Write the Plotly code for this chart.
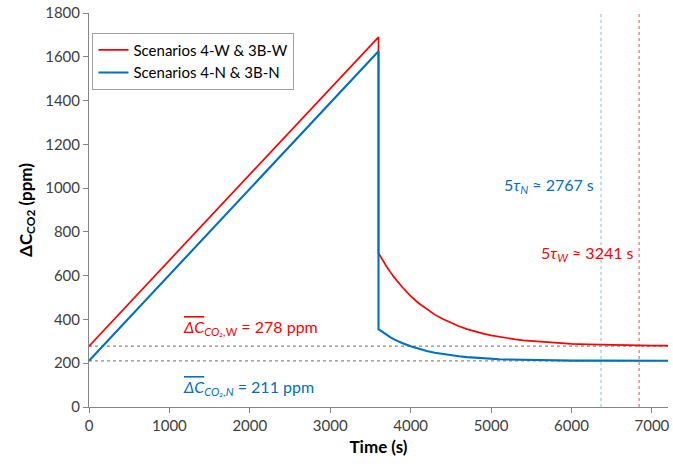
import plotly.graph_objects as go

# Time axis (s) and concentration rise (ppm) during occupancy
t_rise = [0, 3600]
w_rise = [278, 1690]
n_rise = [211, 1625]

# Decay after ventilation at t = 3600 s
t_decay = [3600, 3650, 3700, 3750, 3800, 3900, 4000, 4100, 4200, 4300, 4400, 4500, 4600,
           4700, 4800, 4900, 5000, 5100, 5200, 5300, 5400, 5500, 5600,
           5800, 6000, 6200, 6400, 6600, 6800, 7000, 7200]
w_decay = [703, 671, 642, 615, 590, 546, 507, 474, 446, 422, 402, 384, 369,
           356, 345, 335, 327, 320, 314, 309, 304, 301, 297,
           292, 288, 286, 284, 282, 281, 280, 280]
n_decay = [356, 342, 330, 318, 308, 291, 278, 266, 256, 248, 242, 236, 232,
           228, 225, 222, 220, 218, 217, 216, 215, 214, 214,
           213, 212, 212, 212, 211, 211, 211, 211]

w_mean = 278
n_mean = 211
t_off = 3600
tau5_w = 3241
tau5_n = 2767

RED = "#ff0000"
BLUE = "#0070c0"
FONT = "Lato"

t_w = t_rise + t_decay
c_w = w_rise + w_decay
t_n = t_rise + t_decay
c_n = n_rise + n_decay

fig = go.Figure()

# mean-level reference lines
for lvl in (w_mean, n_mean):
    fig.add_trace(go.Scatter(x=[0, 7200], y=[lvl, lvl], mode="lines",
                             line=dict(color="#8c8c8c", width=1.2, dash="dot"),
                             showlegend=False, hoverinfo="skip"))
# 5-tau markers
fig.add_trace(go.Scatter(x=[t_off + tau5_n] * 2, y=[0, 1800], mode="lines",
                         line=dict(color="#9dc3e6", width=1.2, dash="dot"),
                         showlegend=False, hoverinfo="skip"))
fig.add_trace(go.Scatter(x=[t_off + tau5_w] * 2, y=[0, 1800], mode="lines",
                         line=dict(color="#ff6666", width=1.2, dash="dot"),
                         showlegend=False, hoverinfo="skip"))

fig.add_trace(go.Scatter(x=t_w, y=c_w, mode="lines", name="Scenarios 4-W & 3B-W",
                         line=dict(color=RED, width=1.7)))
fig.add_trace(go.Scatter(x=t_n, y=c_n, mode="lines", name="Scenarios 4-N & 3B-N",
                         line=dict(color=BLUE, width=2.1)))

ov = '<span style="text-decoration:overline">'
fig.add_annotation(x=1140, y=365, xanchor="left", yanchor="middle", showarrow=False,
                   text=f"{ov}<i>ΔC</i></span><sub><i>CO₂,</i>W</sub> = {w_mean} ppm",
                   font=dict(family=FONT, size=16, color=RED))
fig.add_annotation(x=1140, y=88, xanchor="left", yanchor="middle", showarrow=False,
                   text=f"{ov}<i>ΔC</i></span><sub><i>CO₂,N</i></sub> = {n_mean} ppm",
                   font=dict(family=FONT, size=16, color=BLUE))
fig.add_annotation(x=5130, y=1010, xanchor="left", yanchor="middle", showarrow=False,
                   text=f"5<i>τ<sub>N</sub></i> ≈ {tau5_n} s",
                   font=dict(family=FONT, size=16, color=BLUE))
fig.add_annotation(x=5590, y=703, xanchor="left", yanchor="middle", showarrow=False,
                   text=f"5<i>τ<sub>W</sub></i> ≈ {tau5_w} s",
                   font=dict(family=FONT, size=16, color=RED))

axis_common = dict(showgrid=False, zeroline=False, showline=True, linecolor="#868686",
                   linewidth=1, ticks="outside", ticklen=5, tickcolor="#868686",
                   tickfont=dict(family=FONT, size=15, color="#404040"))

fig.update_xaxes(range=[0, 7200], tickvals=[0, 1000, 2000, 3000, 4000, 5000, 6000, 7000],
                 title=dict(text="<b>Time (s)</b>", font=dict(family=FONT, size=17, color="#000"),
                            standoff=8),
                 **axis_common)
fig.update_yaxes(range=[0, 1800], dtick=200,
                 title=dict(text="<b>ΔC<sub>CO2</sub> (ppm)</b>",
                            font=dict(family=FONT, size=17, color="#000"), standoff=8),
                 **axis_common)

fig.update_layout(
    width=673, height=468,
    margin=dict(l=89, r=3, t=13, b=61),
    plot_bgcolor="white", paper_bgcolor="white",
    legend=dict(x=0.006, y=0.95, xanchor="left", yanchor="top",
                bordercolor="#a0a0a0", borderwidth=1, bgcolor="white",
                font=dict(family=FONT, size=15, color="#000"),
                tracegroupgap=2),
)

fig.write_html("out.html")
